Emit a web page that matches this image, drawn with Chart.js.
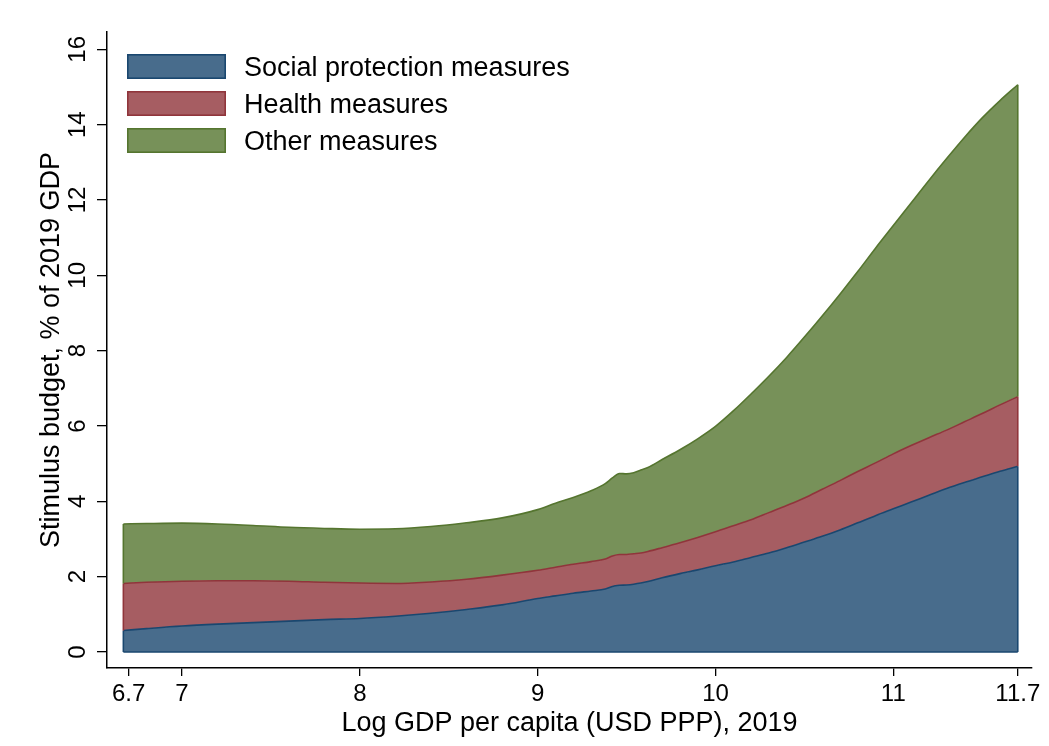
<!DOCTYPE html>
<html>
<head>
<meta charset="utf-8">
<title>Stimulus budget by income level</title>
<script src="https://cdn.jsdelivr.net/npm/chart.js@4.4.1/dist/chart.umd.min.js"></script>
<style>
  html, body { margin: 0; padding: 0; background: #ffffff; }
  #wrap { width: 1049px; height: 746px; position: relative; }
  canvas { display: block; }
</style>
</head>
<body>
<div id="wrap"><canvas id="chart" width="1049" height="746"></canvas></div>
<script>
// Log GDP per capita (x) and the upper edge of each stacked band (% of 2019 GDP)
const logGdp = [6.67, 6.8, 7.0, 7.2, 7.4, 7.6, 7.8, 8.0, 8.2, 8.4, 8.6, 8.8, 9.0, 9.1, 9.2, 9.3,
  9.38, 9.42, 9.46, 9.5, 9.54, 9.58, 9.62, 9.7, 9.8, 9.9, 10.0, 10.1, 10.2, 10.3, 10.4, 10.5,
  10.6, 10.7, 10.8, 10.9, 11.0, 11.1, 11.2, 11.3, 11.4, 11.5, 11.6, 11.7];

// Social protection measures (bottom band)
const socialTop = [0.57, 0.62, 0.69, 0.74, 0.78, 0.82, 0.86, 0.89, 0.95, 1.03, 1.13, 1.25, 1.42, 1.49, 1.56, 1.62,
  1.67, 1.74, 1.77, 1.78, 1.80, 1.83, 1.87, 1.97, 2.08, 2.18, 2.29, 2.39, 2.51, 2.63, 2.77, 2.92,
  3.07, 3.24, 3.43, 3.62, 3.80, 3.98, 4.16, 4.34, 4.50, 4.65, 4.80, 4.93];

// Social protection + health measures
const healthTop = [1.82, 1.85, 1.88, 1.89, 1.89, 1.88, 1.85, 1.83, 1.82, 1.86, 1.93, 2.04, 2.17, 2.25, 2.33, 2.40,
  2.47, 2.55, 2.59, 2.59, 2.61, 2.63, 2.67, 2.77, 2.90, 3.04, 3.19, 3.35, 3.51, 3.70, 3.89, 4.09,
  4.32, 4.55, 4.79, 5.02, 5.26, 5.48, 5.69, 5.89, 6.11, 6.33, 6.56, 6.78];

// Total stimulus (social protection + health + other)
const otherTop = [3.40, 3.41, 3.42, 3.40, 3.36, 3.31, 3.28, 3.26, 3.27, 3.33, 3.43, 3.56, 3.78, 3.95, 4.10, 4.28,
  4.47, 4.62, 4.74, 4.73, 4.76, 4.83, 4.90, 5.11, 5.37, 5.66, 5.99, 6.40, 6.85, 7.32, 7.82, 8.36,
  8.92, 9.50, 10.10, 10.72, 11.32, 11.92, 12.52, 13.10, 13.66, 14.18, 14.64, 15.06];

const seriesNames = ['Social protection measures', 'Health measures', 'Other measures'];
const xTickValues = [6.7, 7, 8, 9, 10, 11, 11.7];
const yTickValues = [0, 2, 4, 6, 8, 10, 12, 14, 16];

const FONT = '"Liberation Sans", Arial, Helvetica, sans-serif';
const fills = ['rgb(72,108,140)', 'rgb(166,93,98)', 'rgb(119,145,89)'];
const edges = ['rgb(26,71,111)', 'rgb(144,53,59)', 'rgb(85,117,47)'];

const toPoints = ys => logGdp.map((x, i) => ({ x: x, y: ys[i] }));

// Closes each band with its vertical end edges and the baseline, as an outlined area
const bandEdges = {
  id: 'bandEdges',
  afterDatasetsDraw(chart) {
    const ctx = chart.ctx;
    const yScale = chart.scales.y;
    const zero = yScale.getPixelForValue(0);
    ctx.save();
    ctx.lineWidth = 1.6;
    chart.data.datasets.forEach((ds, i) => {
      const pts = chart.getDatasetMeta(i).data;
      const below = i === 0 ? null : chart.getDatasetMeta(i - 1).data;
      const first = pts[0], last = pts[pts.length - 1];
      const lowFirst = below ? below[0].y : zero;
      const lowLast = below ? below[below.length - 1].y : zero;
      ctx.strokeStyle = ds.borderColor;
      ctx.beginPath();
      ctx.moveTo(first.x, first.y); ctx.lineTo(first.x, lowFirst);
      ctx.moveTo(last.x, last.y); ctx.lineTo(last.x, lowLast);
      if (i === 0) { ctx.moveTo(first.x, zero); ctx.lineTo(last.x, zero); }
      ctx.stroke();
    });
    ctx.restore();
  }
};

// Rotated y-axis tick labels, placed at each tick of the y scale
const yTickLabels = {
  id: 'yTickLabels',
  afterDraw(chart) {
    const y = chart.scales.y;
    const ctx = chart.ctx;
    ctx.save();
    ctx.font = '24px ' + FONT;
    ctx.fillStyle = '#000';
    ctx.textAlign = 'center';
    ctx.textBaseline = 'middle';
    y.ticks.forEach(t => {
      const py = y.getPixelForValue(t.value);
      ctx.save();
      ctx.translate(y.right - 29, py);
      ctx.rotate(-Math.PI / 2);
      ctx.fillText(String(t.value), 0, 0);
      ctx.restore();
    });
    ctx.restore();
  }
};

// Legend in the upper-left corner of the plot region
const cornerLegend = {
  id: 'cornerLegend',
  afterDraw(chart) {
    const ctx = chart.ctx;
    const left = chart.chartArea.left + 20;
    const top = chart.chartArea.top + 22;
    const boxW = 99, boxH = 25, step = 37;
    ctx.save();
    ctx.font = '27px ' + FONT;
    ctx.textAlign = 'left';
    ctx.textBaseline = 'alphabetic';
    chart.data.datasets.forEach((ds, i) => {
      const by = top + i * step;
      ctx.fillStyle = ds.backgroundColor;
      ctx.fillRect(left, by, boxW, boxH);
      ctx.strokeStyle = ds.borderColor;
      ctx.lineWidth = 1.6;
      ctx.strokeRect(left + 0.8, by + 0.8, boxW - 1.6, boxH - 1.6);
      ctx.fillStyle = '#000';
      ctx.fillText(ds.label, left + boxW + 18, by + boxH / 2 + 9.7);
    });
    ctx.restore();
  }
};

const bandTops = [socialTop, healthTop, otherTop];

new Chart(document.getElementById('chart'), {
  type: 'line',
  data: {
    datasets: bandTops.map((ys, i) => ({
      label: seriesNames[i],
      data: toPoints(ys),
      backgroundColor: fills[i],
      borderColor: edges[i],
      borderWidth: 1.6,
      pointRadius: 0,
      cubicInterpolationMode: 'monotone',
      fill: i === 0 ? 'origin' : '-1'
    }))
  },
  options: {
    responsive: false,
    animation: false,
    events: [],
    layout: { padding: { left: 0, top: 32, right: 17, bottom: 0 } },
    plugins: { legend: { display: false }, tooltip: { enabled: false } },
    scales: {
      x: {
        type: 'linear',
        min: 6.578,
        max: 11.78,
        afterBuildTicks: s => { s.ticks = xTickValues.map(v => ({ value: v })); },
        afterFit: s => { s.height = 78; },
        grid: { display: true, drawOnChartArea: false, drawTicks: true, tickLength: 8, color: '#000', lineWidth: 1.3 },
        border: { display: true, color: '#000', width: 1.5 },
        ticks: {
          autoSkip: false, maxRotation: 0, minRotation: 0, padding: 4,
          color: '#000', font: { family: FONT, size: 24 },
          callback: v => String(v)
        },
        title: {
          display: true, text: 'Log GDP per capita (USD PPP), 2019',
          color: '#000', font: { family: FONT, size: 27 },
          padding: { top: 0, bottom: 6 }
        }
      },
      y: {
        type: 'linear',
        min: -0.425,
        max: 16.46,
        afterBuildTicks: s => { s.ticks = yTickValues.map(v => ({ value: v })); },
        afterFit: s => { s.width = 107; },
        grid: { display: true, drawOnChartArea: false, drawTicks: true, tickLength: 10, color: '#000', lineWidth: 1.3 },
        border: { display: true, color: '#000', width: 1.5 },
        ticks: { display: false },
        title: {
          display: true, text: 'Stimulus budget, % of 2019 GDP',
          color: '#000', font: { family: FONT, size: 27 },
          padding: { top: 35, bottom: 0 }
        }
      }
    }
  },
  plugins: [bandEdges, yTickLabels, cornerLegend]
});
</script>
</body>
</html>
